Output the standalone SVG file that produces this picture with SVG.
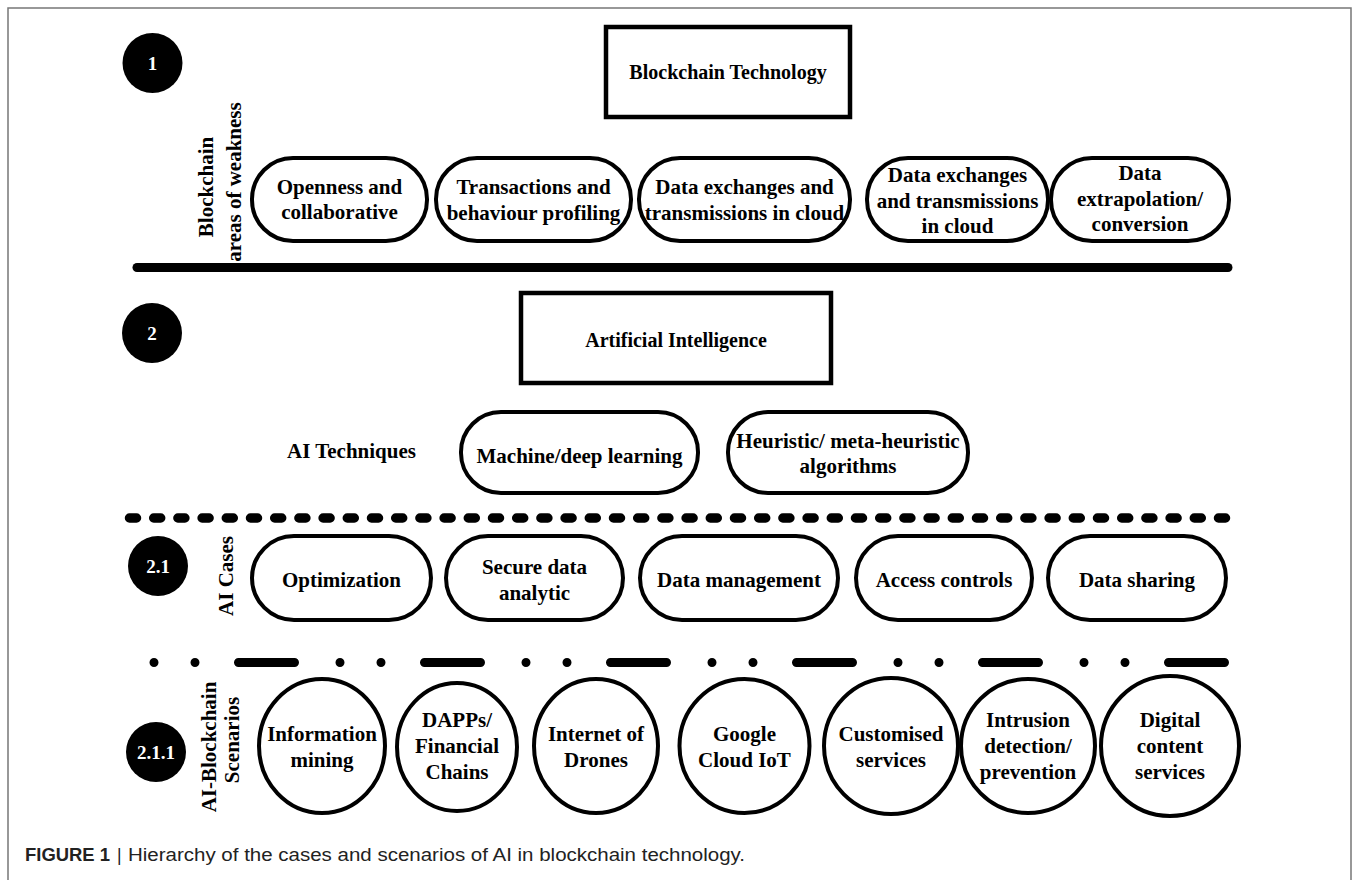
<svg xmlns="http://www.w3.org/2000/svg" width="1356" height="880" viewBox="0 0 1356 880">
<style>
.t{font-family:"Liberation Serif","Times New Roman",serif;font-weight:bold;font-size:21px;fill:#000;text-anchor:middle}
.s{fill:#fff;stroke:#000;stroke-width:4}
.box{fill:#fff;stroke:#000;stroke-width:4.5}
.num{fill:#000}
.nt{font-family:"Liberation Serif","Times New Roman",serif;font-weight:bold;font-size:19px;fill:#fff;text-anchor:middle}
.cap{font-family:"Liberation Sans",Arial,sans-serif;font-size:17.5px;fill:#222}
</style>
<rect width="1356" height="880" fill="#fff"/>
<path d="M8,880 V8 H1351 V880" fill="none" stroke="#777" stroke-width="1.5"/>

<g id="connectors" fill="none" stroke="#000" stroke-linecap="round">
<path d="M137,267.5 H1228" stroke-width="9"/>
<path d="M129.5,518 H1226" stroke-width="9.5" stroke-dasharray="7 17.2"/>
<path d="M154,662.5 H1225" stroke-width="9" stroke-dasharray="0 41 0 43.5 56 45.5"/>
</g>

<g id="badge-1"><circle class="num" cx="152.5" cy="63" r="30"/><text class="nt" x="152.5" y="69.5">1</text></g>
<g id="badge-2"><circle class="num" cx="152" cy="333" r="30"/><text class="nt" x="152" y="339.5">2</text></g>
<g id="badge-2-1"><circle class="num" cx="158" cy="566" r="30"/><text class="nt" x="158" y="573" font-size="20">2.1</text></g>
<g id="badge-2-1-1"><circle class="num" cx="156" cy="752" r="30"/><text class="nt" x="156" y="759" font-size="20">2.1.1</text></g>

<g id="label-weakness">
<text class="t" transform="translate(213,187) rotate(-90)">Blockchain</text>
<text class="t" transform="translate(241,182) rotate(-90)">areas of weakness</text>
</g>
<g id="label-techniques"><text class="t" x="287" y="458" style="text-anchor:start">AI Techniques</text></g>
<g id="label-cases"><text class="t" transform="translate(233,576) rotate(-90)">AI Cases</text></g>
<g id="label-scenarios">
<text class="t" transform="translate(216,747) rotate(-90)">AI-Blockchain</text>
<text class="t" transform="translate(239,740) rotate(-90)">Scenarios</text>
</g>

<g id="blockchain-technology"><rect class="box" x="606" y="27" width="244" height="90"/><text class="t" x="728" y="78.5" style="font-size:20px">Blockchain Technology</text></g>
<g id="artificial-intelligence"><rect class="box" x="521" y="293" width="310" height="90"/><text class="t" x="676" y="346.5" style="font-size:20px">Artificial Intelligence</text></g>

<g id="w1"><rect class="s" x="252" y="158" width="175" height="83" rx="41" ry="41"/><text class="t" x="339.5" y="193.5">Openness and</text><text class="t" x="339.5" y="219">collaborative</text></g>
<g id="w2"><rect class="s" x="436" y="158" width="195" height="83" rx="41" ry="41"/><text class="t" x="533.5" y="193.5">Transactions and</text><text class="t" x="533.5" y="219.5">behaviour profiling</text></g>
<g id="w3"><rect class="s" x="639" y="158" width="211" height="83" rx="41" ry="41"/><text class="t" x="744.5" y="193.5">Data exchanges and</text><text class="t" x="744.5" y="219.5">transmissions in cloud</text></g>
<g id="w4"><rect class="s" x="867" y="158" width="181" height="83" rx="41" ry="41"/><text class="t" x="957.5" y="181.5">Data exchanges</text><text class="t" x="957.5" y="207.5">and transmissions</text><text class="t" x="957.5" y="233">in cloud</text></g>
<g id="w5"><rect class="s" x="1051" y="158" width="178" height="83" rx="41" ry="41"/><text class="t" x="1140" y="179.5">Data</text><text class="t" x="1140" y="205.5">extrapolation/</text><text class="t" x="1140" y="231">conversion</text></g>

<g id="t1"><rect class="s" x="461" y="412" width="237" height="81" rx="40" ry="40"/><text class="t" x="579.5" y="462.5">Machine/deep learning</text></g>
<g id="t2"><rect class="s" x="728" y="412" width="240" height="81" rx="40" ry="40"/><text class="t" x="848" y="448">Heuristic/ meta-heuristic</text><text class="t" x="848" y="473">algorithms</text></g>

<g id="c1"><rect class="s" x="252" y="536" width="179" height="84" rx="42" ry="42"/><text class="t" x="341.5" y="587">Optimization</text></g>
<g id="c2"><rect class="s" x="446" y="536" width="177" height="84" rx="42" ry="42"/><text class="t" x="534.5" y="573.5">Secure data</text><text class="t" x="534.5" y="599.5">analytic</text></g>
<g id="c3"><rect class="s" x="640" y="536" width="198" height="84" rx="42" ry="42"/><text class="t" x="739" y="587">Data management</text></g>
<g id="c4"><rect class="s" x="856" y="536" width="176" height="84" rx="42" ry="42"/><text class="t" x="944" y="587">Access controls</text></g>
<g id="c5"><rect class="s" x="1048" y="536" width="178" height="84" rx="42" ry="42"/><text class="t" x="1137" y="587">Data sharing</text></g>

<g id="s1"><ellipse class="s" cx="322" cy="746" rx="63" ry="67"/><text class="t" x="322" y="741">Information</text><text class="t" x="322" y="767">mining</text></g>
<g id="s2"><ellipse class="s" cx="457" cy="747" rx="60" ry="64"/><text class="t" x="457" y="727">DAPPs/</text><text class="t" x="457" y="753">Financial</text><text class="t" x="457" y="779">Chains</text></g>
<g id="s3"><ellipse class="s" cx="596" cy="746" rx="62" ry="67"/><text class="t" x="596" y="741">Internet of</text><text class="t" x="596" y="767">Drones</text></g>
<g id="s4"><ellipse class="s" cx="744.5" cy="746" rx="65" ry="67"/><text class="t" x="744.5" y="741">Google</text><text class="t" x="744.5" y="767">Cloud IoT</text></g>
<g id="s5"><ellipse class="s" cx="891" cy="746" rx="67" ry="68"/><text class="t" x="891" y="741">Customised</text><text class="t" x="891" y="767">services</text></g>
<g id="s6"><ellipse class="s" cx="1028" cy="746" rx="67" ry="67"/><text class="t" x="1028" y="727">Intrusion</text><text class="t" x="1028" y="753">detection/</text><text class="t" x="1028" y="779">prevention</text></g>
<g id="s7"><ellipse class="s" cx="1170" cy="746" rx="69" ry="70"/><text class="t" x="1170" y="727">Digital</text><text class="t" x="1170" y="753">content</text><text class="t" x="1170" y="779">services</text></g>

<g id="caption">
<text class="cap" x="25" y="861" font-weight="bold" fill="#000" textLength="85" lengthAdjust="spacingAndGlyphs">FIGURE 1</text>
<text class="cap" x="117" y="861" fill="#666">|</text>
<text class="cap" x="128" y="861" textLength="617" lengthAdjust="spacingAndGlyphs">Hierarchy of the cases and scenarios of AI in blockchain technology.</text>
</g>
</svg>
